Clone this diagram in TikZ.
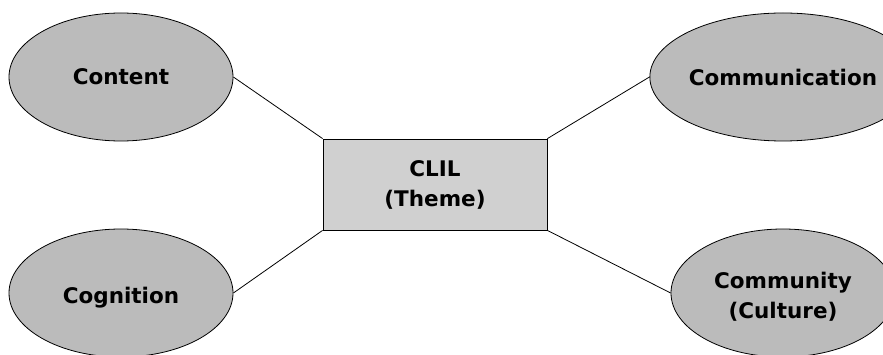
\documentclass[tikz,border=0pt]{standalone}
\usepackage{fontspec}
\setmainfont{DejaVu Sans}
\usetikzlibrary{shapes.geometric}
\definecolor{ovalgray}{HTML}{BBBBBB}
\definecolor{boxgray}{HTML}{D0D0D0}
% shift a label down without changing the box the node centres on
\newcommand{\lowerlabel}[2]{\raisebox{-#1}[\height][\depth]{#2}}
\begin{document}
\begin{tikzpicture}[x=1pt,y=-1pt,
  lbl/.style={font=\fontsize{21.5}{30}\selectfont\bfseries, align=center, text=black},
  oval/.style={ellipse, draw=black, line width=0.8pt, fill=ovalgray,
    minimum width=224pt, minimum height=128pt, inner sep=0pt, lbl},
  theme/.style={rectangle, draw=black, line width=0.8pt, fill=boxgray,
    minimum width=224pt, minimum height=91pt, inner sep=0pt, lbl},
  link/.style={draw=black, line width=0.8pt}]
  \useasboundingbox (0,0) rectangle (883,355);
  \clip (0,0) rectangle (883,355);
  % central theme box
  \node[theme] (clil) at (435,184.5) {CLIL\\(Theme)};
  % the four surrounding ovals
  \node[oval] (content) at (121,77) {Content};
  \node[oval] (cognition) at (121,293) {\lowerlabel{5pt}{Cognition}};
  \node[oval] (communication) at (783,77) {Communication};
  \node[oval] (community) at (783,293)
    {\lowerlabel{4pt}{\begin{tabular}{@{}c@{}}Community\\(Culture)\end{tabular}}};
  % connectors from each oval to a corner of the box
  \draw[link] (content.east) -- (clil.north west);
  \draw[link] (cognition.east) -- (clil.south west);
  \draw[link] (communication.west) -- (clil.north east);
  \draw[link] (community.west) -- (clil.south east);
\end{tikzpicture}
\end{document}
